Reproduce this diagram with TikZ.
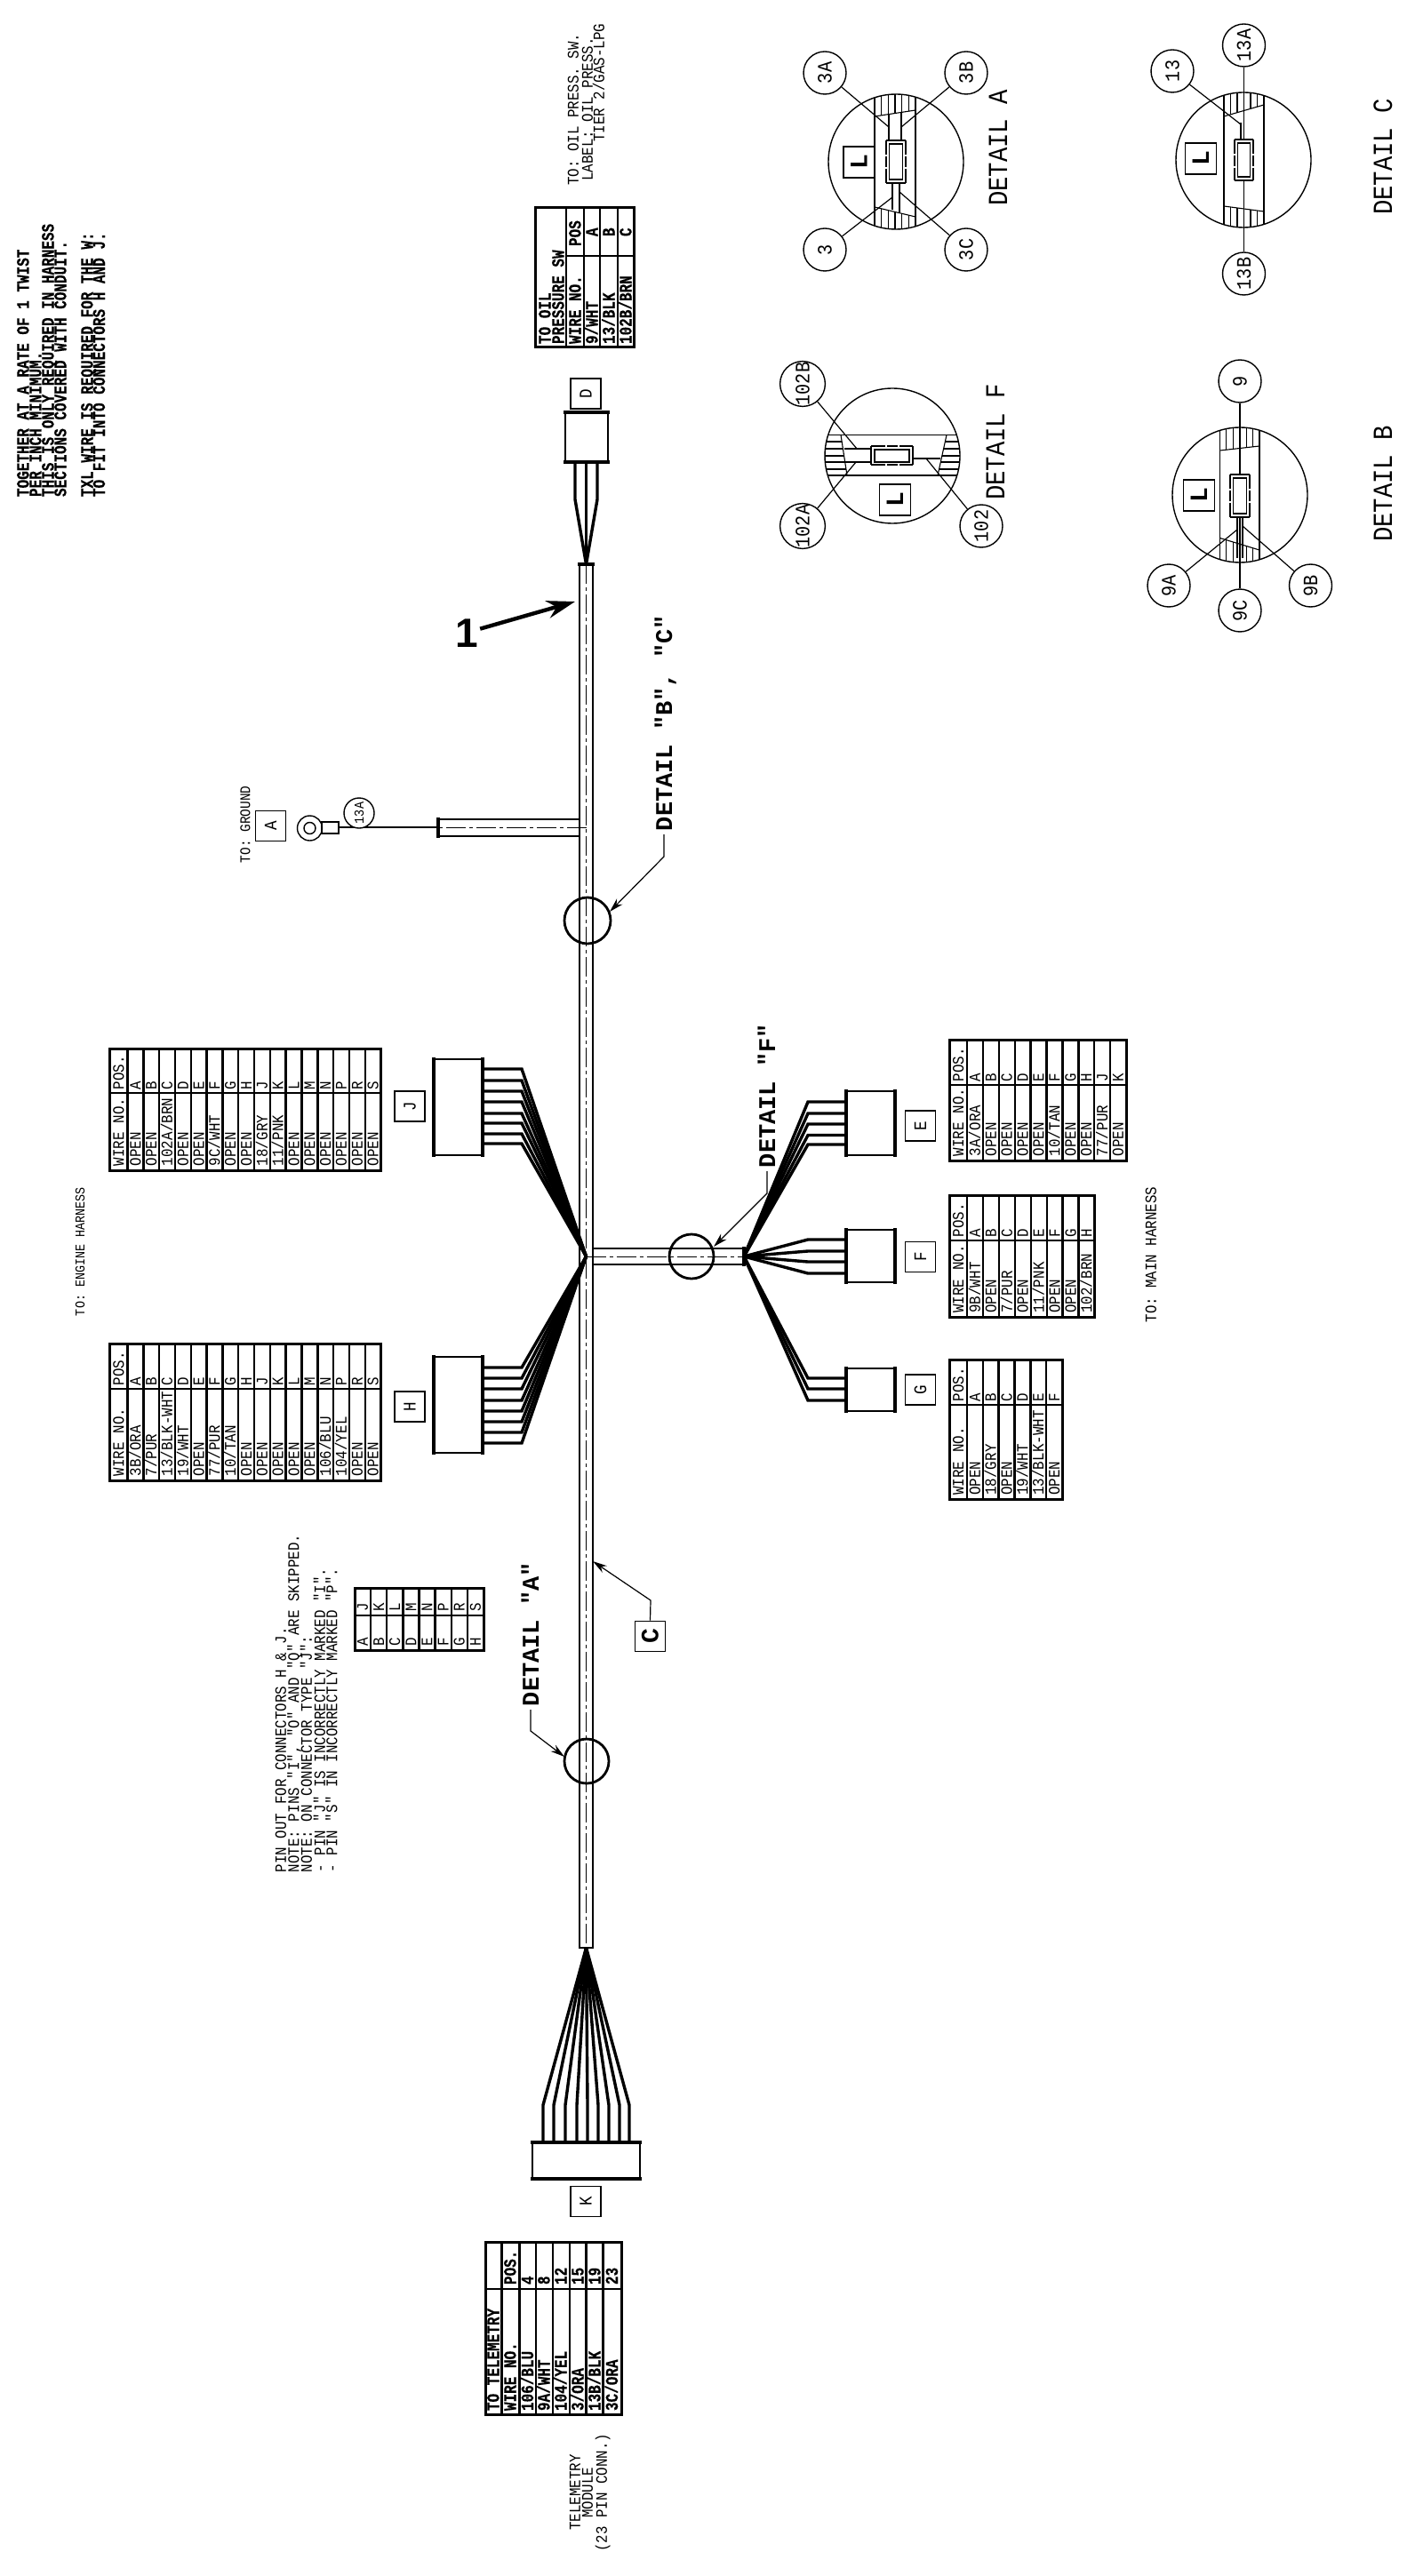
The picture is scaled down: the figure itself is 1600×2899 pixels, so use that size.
\documentclass[tikz,border=0pt]{standalone}
\usepackage{fontspec}
\usetikzlibrary{arrows.meta}
\newfontfamily\cadfont[FakeStretch=0.88]{Liberation Mono}
\newfontfamily\cadbold[FakeStretch=0.8,FakeBold=0.3]{Liberation Mono Bold}
\newfontfamily\cadwide{Liberation Mono Bold}
\newfontfamily\cadsans{Liberation Sans Bold}
\tikzset{
  cad/.style 2 args={rotate=90,anchor=west,inner sep=0pt,outer sep=0pt,text depth=0pt,
     font=\cadfont\fontsize{#1pt}{#1pt}\selectfont,text height=#2pt},
  cadb/.style 2 args={rotate=90,anchor=west,inner sep=0pt,outer sep=0pt,text depth=0pt,
     font=\cadbold\fontsize{#1pt}{#1pt}\selectfont,text height=#2pt},
  cadw/.style 2 args={rotate=90,anchor=west,inner sep=0pt,outer sep=0pt,text depth=0pt,
     font=\cadwide\fontsize{#1pt}{#1pt}\selectfont,text height=#2pt},
  txtN/.style={cad={9}{5.9}},
  txtS/.style={cad={7.6}{5}},
  txtG/.style={cad={8.2}{5.4}},
  txtD/.style={cad={15.5}{10.2}},
  txtB/.style={cadb={10}{6.5}},
  txtW/.style={cadw={13.5}{9}},
  thinl/.style={line width=0.7pt},
  fine/.style={line width=0.55pt},
  sleeve/.style={line width=0.7pt},
  centerl/.style={line width=0.5pt,dash pattern=on 11pt off 2pt on 2pt off 2pt},
  capbar/.style={line width=1.6pt},
  wire/.style={line width=1.7pt,miter limit=10},
  leader/.style={line width=0.6pt},
  leadarrow/.style={line width=0.6pt,-{Stealth[length=8pt,width=4.5pt]}},
  ringbold/.style={circle,draw,line width=1.4pt,inner sep=0pt},
  connbox/.style={rectangle,draw,line width=0.7pt,inner sep=0pt,outer sep=0pt},
  letterbox/.style={rectangle,draw,line width=0.7pt,minimum size=17pt,inner sep=0pt,rotate=90,
     font=\cadfont\fontsize{10pt}{10pt}\selectfont,text height=6.6pt,text depth=0pt},
  lbox/.style={rectangle,draw,line width=0.8pt,minimum size=17.5pt,inner sep=0pt,rotate=90,
     font=\cadwide\fontsize{14pt}{14pt}\selectfont,text height=9.2pt,text depth=0pt},
  callout/.style={circle,draw,line width=0.7pt,minimum size=24pt,inner sep=0pt,rotate=90,
     font=\cadfont\fontsize{11.5pt}{11.5pt}\selectfont,text height=7.6pt,text depth=0pt},
  detcirc/.style={circle,draw,line width=0.7pt,minimum size=76pt,inner sep=0pt,outer sep=0pt},
  tabouter/.style={line width=1.5pt},
  tabinner/.style={line width=1.2pt},
}
% wire table: name, xleft, xright, ytop, ydiv, ybottom, header width, nrows, rows
\newcommand{\wiretable}[9]{%
  \draw[tabouter] (#2,#4) rectangle (#3,#6);
  \draw[tabinner] (#2,#5) -- (#3,#5);
  \node[txtN] (#1-hw) at (#2+#7/2,#6-5) {WIRE NO.};
  \node[txtN] (#1-hp) at (#2+#7/2,#5-4) {POS.};
  \pgfmathsetmacro\rowstep{(#3-#2-#7)/#8}
  \foreach \w/\p [count=\i from 0] in {#9}{
    \pgfmathsetmacro\xa{#2+#7+\i*\rowstep}
    \pgfmathsetmacro\xc{\xa+\rowstep/2}
    \draw[tabinner] (\xa,#4) -- (\xa,#6);
    \node[txtN] (#1-w\i) at (\xc,#6-5) {\w};
    \node[txtN] (#1-p\i) at (\xc,#5-4) {\p};
  }
}
% horizontal fan
\newcommand{\fanh}[4]{\foreach \y in {#4}{\draw[wire] (#1 |- 0,\y) -- (#2,\y) -- (#3);}}
% bars at the two wire/mating faces
\newcommand{\barsh}[1]{%
  \draw[capbar] ([yshift=1pt]#1.north west) -- ([yshift=-1pt]#1.south west);
  \draw[capbar] ([yshift=1pt]#1.north east) -- ([yshift=-1pt]#1.south east);}
\newcommand{\barsv}[1]{%
  \draw[capbar] ([xshift=-1pt]#1.north west) -- ([xshift=1pt]#1.north east);
  \draw[capbar] ([xshift=-1pt]#1.south west) -- ([xshift=1pt]#1.south east);}
% vertical-conduit detail: name,cx,cy,x1,x2,y1top,y2top,y1bot,y2bot
\newcommand{\vdetail}[9]{%
  \node[detcirc] (#1) at (#2,#3) {};
  \begin{scope}
    \clip (#2,#3) circle[radius=76];
    \draw[fine] (#4,#3-80) -- (#4,#3+80);
    \draw[fine] (#5,#3-80) -- (#5,#3+80);
    \draw[fine] (#4,#6) -- (#5,#7);
    \draw[fine] (#4,#8) -- (#5,#9);
    \begin{scope}
      \clip (#4,#3-80) -- (#5,#3-80) -- (#5,#7) -- (#4,#6) -- cycle;
      \foreach \k in {1,...,5}{\pgfmathsetmacro\hx{#4+\k*(#5-#4)/6}\draw[fine] (\hx,#3-80) -- (\hx,#3+80);}
    \end{scope}
    \begin{scope}
      \clip (#4,#3+80) -- (#5,#3+80) -- (#5,#9) -- (#4,#8) -- cycle;
      \foreach \k in {1,...,5}{\pgfmathsetmacro\hx{#4+\k*(#5-#4)/6}\draw[fine] (\hx,#3-80) -- (\hx,#3+80);}
    \end{scope}
  \end{scope}
}
% small connector inside a vertical detail: x1,y1,x2,y2
\newcommand{\vplug}[4]{%
  \draw[thinl] (#1,#2) -- (#3,#2);
  \draw[thinl] (#1,#4) -- (#3,#4);
  \draw[thinl,dash pattern=on 8pt off 1pt on 6pt off 1pt on 8pt off 1pt] (#1,#2) -- (#1,#4);
  \draw[thinl,dash pattern=on 8pt off 1pt on 6pt off 1pt on 8pt off 1pt] (#3,#2) -- (#3,#4);
  \draw[thinl] (#1+3.5,#2+4) rectangle (#3-3.5,#4-4);
}
% callout leader to a free end
\newcommand{\calleader}[2]{\coordinate (#1-end) at (#2); \draw[leader] (#1) -- (#1-end);}
\begin{document}
\begin{tikzpicture}[x=0.5pt,y=-0.5pt]
\useasboundingbox (0,0) rectangle (1600,2899);
\fill[white] (0,0) rectangle (1600,2899);

% ---- notes, top left
\node[txtB] (n1) at (26,559) {TOGETHER AT A RATE OF 1 TWIST};
\node[txtB] (n2) at (40,559) {PER INCH MINIMUM.};
\node[txtB] (n3) at (54,559) {THIS IS ONLY REQUIRED IN HARNESS};
\node[txtB] (n4) at (68,559) {SECTIONS COVERED WITH CONDUIT.};
\node[txtB] (n5) at (98,559) {TXL WIRE IS REQUIRED FOR THE W:};
\node[txtB] (n6) at (111.5,559) {TO FIT INTO CONNECTORS H AND J.};

% ---- main harness
\coordinate (tipTop) at (659.5,635);
\coordinate (tipBot) at (659.5,2192);
\coordinate (tipL) at (659.5,1414);
\coordinate (tipR) at (837,1414);
\coordinate (gndEnd) at (493,931);
\draw[sleeve] (652,635) -- (652,2192) -- (667,2192) -- (667,635);
\draw[centerl] (tipTop) -- (tipBot);
\draw[capbar] (650,635) -- (669,635);
% right branch
\draw[sleeve] (667,1405) -- (837,1405) (667,1423) -- (837,1423);
\draw[centerl] (tipL) -- (tipR);
\draw[capbar] (837,1403) -- (837,1425);
% ground branch
\draw[sleeve] (652,922) -- (493,922) (652,941) -- (493,941);
\draw[centerl] (659.5,931) -- (gndEnd);
\draw[capbar] (493,920) -- (493,943);

% ---- D connector and table
\node[connbox,minimum width=24pt,minimum height=28pt] (connD) at (660,492) {};
\barsv{connD}
\foreach \x in {647,659.5,672}{\draw[wire] (\x,0 |- connD.south) -- (\x,562) -- (tipTop);}
\node[letterbox] (boxD) at (659,443) {D};
\draw[tabouter] (602,234) rectangle (713,391);
\foreach \x in {637,657,675,695}{\draw[tabinner] (\x,234) -- (\x,391);}
\draw[tabinner] (637,288) -- (713,288);
\node[txtB] (oil1) at (613,387) {TO OIL};
\node[txtB] (oil2) at (628,387) {PRESSURE SW};
\node[txtB] (oil3) at (647,387) {WIRE NO.};
\node[txtB] (oil4) at (666,387) {9/WHT};
\node[txtB] (oil5) at (685,387) {13/BLK};
\node[txtB] (oil6) at (704,387) {102B/BRN};
\node[txtB] (oil7) at (647,277) {POS};
\node[txtB] (oil8) at (666,266) {A};
\node[txtB] (oil9) at (685,266) {B};
\node[txtB] (oil10) at (704,266) {C};
\node[txtN] (top1) at (645,209) {TO: OIL PRESS. SW.};
\node[txtN] (top2) at (661,204) {LABEL: OIL PRESS.};
\node[txtN] (top3) at (674,160) {TIER 2/GAS-LPG};

% ---- item 1
\node[inner sep=1pt,font=\cadsans\fontsize{23pt}{23pt}\selectfont,text height=16.5pt,text depth=0pt] (itemOne) at (525,712) {1};
\coordinate (itemOneEnd) at (647,677);
\draw[line width=2.2pt,-{Stealth[length=16pt,width=10pt]}] (itemOne) -- (itemOneEnd);

% ---- DETAIL B,C callout
\node[ringbold,minimum size=26pt] (ringBC) at (661,1036) {};
\node[txtW] (detBC) at (747,935) {DETAIL "B", "C"};
\coordinate (bcBend) at (747,964);
\coordinate (bcTip) at (686,1026);
\draw[leadarrow] ([yshift=-2pt]detBC.west) -- (bcBend) -- (bcTip);

% ---- ground
\draw[leader] (gndEnd) -- (381,931);
\node[connbox,minimum width=9.5pt,minimum height=6.5pt] (crimp) at (371.5,931.5) {};
\node[circle,draw,line width=0.7pt,minimum size=14pt,inner sep=0pt] (ringO) at (348.5,932) {};
\node[circle,draw,line width=0.7pt,minimum size=6.5pt,inner sep=0pt] (ringI) at (348.5,932) {};
\node[callout,minimum size=17pt,font=\cadfont\fontsize{7.6pt}{7.6pt}\selectfont,text height=5pt,fill=white] (c13g) at (404,915) {13A};
\node[letterbox] (boxA) at (304.5,929.5) {A};
\node[txtG] (gndT) at (276,971) {TO:  GROUND};

% ---- J and H connectors
\node[connbox,minimum width=27.5pt,minimum height=54pt] (connJ) at (515.5,1246) {};
\node[connbox,minimum width=27.5pt,minimum height=54pt] (connH) at (515.5,1581) {};
\barsh{connJ}\barsh{connH}
\fanh{connJ.east}{587}{tipL}{1203,1216,1228,1240,1253,1264,1276,1287}
\fanh{connH.east}{587}{tipL}{1539,1551,1563,1576,1588,1600,1612,1624}
\node[letterbox] (boxJ) at (461,1245) {J};
\node[letterbox] (boxH) at (461,1583) {H};
\wiretable{tJ}{123.5}{428.6}{1180}{1230}{1317}{20}{16}{OPEN/A,OPEN/B,{102A/BRN}/C,OPEN/D,OPEN/E,{9C/WHT}/F,OPEN/G,OPEN/H,{18/GRY}/J,{11/PNK}/K,OPEN/L,OPEN/M,OPEN/N,OPEN/P,OPEN/R,OPEN/S}
\wiretable{tH}{123.5}{428.6}{1512}{1563}{1666}{20}{16}{{3B/ORA}/A,{7/PUR}/B,{13/BLK-WHT}/C,{19/WHT}/D,OPEN/E,{77/PUR}/F,{10/TAN}/G,OPEN/H,OPEN/J,OPEN/K,OPEN/L,OPEN/M,{106/BLU}/N,{104/YEL}/P,OPEN/R,OPEN/S}
\node[txtS] (toEng) at (90,1481) {TO: ENGINE HARNESS};

% ---- E F G connectors
\node[connbox,minimum width=27.5pt,minimum height=36pt] (connE) at (979.5,1264) {};
\node[connbox,minimum width=27.5pt,minimum height=29.5pt] (connF) at (979.5,1413.5) {};
\node[connbox,minimum width=27.5pt,minimum height=24pt] (connG) at (979.5,1564) {};
\barsh{connE}\barsh{connF}\barsh{connG}
\fanh{connE.west}{909}{tipR}{1240,1253,1265,1277.5,1288}
\fanh{connF.west}{909}{tipR}{1395,1408,1420,1433}
\fanh{connG.west}{909}{tipR}{1551,1563,1576}
\node[letterbox] (boxE) at (1035.5,1267) {E};
\node[letterbox] (boxF) at (1035.5,1414.5) {F};
\node[letterbox] (boxG) at (1035.5,1564) {G};
\wiretable{tE}{1068.5}{1267}{1170}{1221}{1306}{19.5}{10}{{3A/ORA}/A,OPEN/B,OPEN/C,OPEN/D,OPEN/E,{10/TAN}/F,OPEN/G,OPEN/H,{77/PUR}/J,OPEN/K}
\wiretable{tF}{1068.5}{1231.5}{1345}{1396}{1482.5}{19.5}{8}{{9B/WHT}/A,OPEN/B,{7/PUR}/C,OPEN/D,{11/PNK}/E,OPEN/F,OPEN/G,{102/BRN}/H}
\wiretable{tG}{1068.5}{1195}{1530}{1581}{1687.5}{19.5}{6}{OPEN/A,{18/GRY}/B,OPEN/C,{19/WHT}/D,{13/BLK-WHT}/E,OPEN/F}
\node[txtN] (toMain) at (1295,1488) {TO: MAIN HARNESS};

% ---- DETAIL F callout
\node[ringbold,minimum size=25pt] (ringF) at (778,1414) {};
\node[txtW] (detF) at (863,1314) {DETAIL "F"};
\coordinate (fBend) at (863,1343);
\coordinate (fTip) at (803,1403);
\draw[leadarrow] ([yshift=-2pt]detF.west) -- (fBend) -- (fTip);

% ---- pin-out note and table
\node[txtN] (pin1) at (316,2107) {PIN OUT FOR CONNECTORS H \& J.};
\node[txtN] (pin2) at (330.5,2107) {NOTE: PINS "I", "O" AND "Q" ARE SKIPPED.};
\node[txtN] (pin3) at (345,2107) {NOTE: ON CONNECTOR TYPE "J":};
\node[txtN] (pin4) at (360,2107) {- PIN "J" IS INCORRECTLY MARKED "I".};
\node[txtN] (pin5) at (373.5,2107) {- PIN "S" IN INCORRECTLY MARKED "P".};
\draw[tabouter] (399,1787) rectangle (544,1857);
\draw[tabinner] (399,1818) -- (544,1818);
\foreach \lo/\hi [count=\i from 0] in {A/J,B/K,C/L,D/M,E/N,F/P,G/R,H/S}{
  \pgfmathsetmacro\xa{399+\i*18.125}
  \pgfmathsetmacro\xc{\xa+9}
  \ifnum\i>0 \draw[tabinner] (\xa,1787) -- (\xa,1857);\fi
  \node[txtN] (pinL\i) at (\xc,1852) {\lo};
  \node[txtN] (pinH\i) at (\xc,1813) {\hi};
}

% ---- DETAIL A callout, C label
\node[ringbold,minimum size=25pt] (ringA) at (660,1982) {};
\node[txtW] (detA) at (597,1920) {DETAIL "A"};
\coordinate (aBend) at (597,1948);
\coordinate (aTip) at (635,1977);
\draw[leadarrow] ([yshift=-2pt]detA.west) -- (aBend) -- (aTip);
\node[letterbox,font=\cadwide\fontsize{14pt}{14pt}\selectfont,text height=9.2pt,line width=0.8pt] (boxC) at (731.5,1841.5) {C};
\coordinate (cBend) at (732,1801);
\coordinate (cTip) at (667,1757);
\draw[leadarrow] (boxC.east) -- (cBend) -- (cTip);

% ---- K connector and table
\node[connbox,minimum width=60.5pt,minimum height=20.5pt] (connK) at (659.5,2431.5) {};
\barsv{connK}
\foreach \x in {611,623,636,649,661,673,685,697,708}{\draw[wire] (\x,0 |- connK.north) -- (\x,2369) -- (tipBot);}
\node[letterbox] (boxK) at (659,2477.5) {K};
\draw[tabouter] (546,2523) rectangle (699,2717);
\draw[tabinner] (546,2576) -- (699,2576);
\foreach \x in {564.3,584.3,602.7,621.7,640.7,659.3,678.3}{\draw[tabinner] (\x,2523) -- (\x,2717);}
\node[txtB] (tel0) at (555,2713) {TO TELEMETRY};
\foreach \w/\p/\x [count=\i] in {WIRE NO./POS./574,{106/BLU}/4/593.5,{9A/WHT}/8/612,{104/YEL}/12/631,{3/ORA}/15/650,{13B/BLK}/19/669,{3C/ORA}/23/688.5}{
  \node[txtB] (telw\i) at (\x,2713) {\w};
  \node[txtB] (telp\i) at (\x,2571) {\p};
}
\node[txtN,anchor=center] (tm1) at (647,2805) {TELEMETRY};
\node[txtN,anchor=center] (tm2) at (661,2805) {MODULE};
\node[txtN,anchor=center] (tm3) at (677,2805) {(23 PIN CONN.)};

% ================= details
% DETAIL A
\vdetail{dA}{1008}{182}{984}{1030}{131}{124}{233}{244}
\draw[thinl] (1000,129) -- (1000,158) (1014,127) -- (1014,158);
\draw[thinl] (1004,206) -- (1004,236) (1012,206) -- (1012,239);
\vplug{997}{158}{1019}{206}
\node[callout] (c3A) at (928,82) {3A};
\node[callout] (c3B) at (1087,82) {3B};
\node[callout] (c3) at (928,281) {3};
\node[callout] (c3C) at (1087,281) {3C};
\calleader{c3A}{1000,143}
\calleader{c3B}{1014,143}
\calleader{c3}{1004,222}
\calleader{c3C}{1012,216}
\node[lbox] (LA) at (966.5,182.5) {L};
\node[txtD] (tdA) at (1123,232) {DETAIL A};

% DETAIL C
\vdetail{dC}{1399}{180}{1377}{1422}{131}{118}{232}{238}
\vplug{1389}{157}{1410}{203}
\draw[thinl] (1396,138) -- (1396,157);
\node[callout] (c13A) at (1399.5,51) {13A};
\node[callout] (c13B) at (1399.5,308) {13B};
\node[callout] (c13) at (1319,80) {13};
\coordinate (c13Atop) at (1399.5,157);
\coordinate (c13Bbot) at (1399.5,203);
\draw[leader] (c13A) -- (c13Atop);
\draw[leader] (c13B) -- (c13Bbot);
\calleader{c13}{1396,140}
\node[lbox] (LC) at (1351,178.5) {L};
\node[txtD] (tdC) at (1556,242) {DETAIL C};

% DETAIL B
\vdetail{dB}{1395}{557}{1372.5}{1417}{507}{502}{605.5}{619}
\vplug{1384}{534}{1406}{582}
\draw[thinl] (1392,582) -- (1392,628) (1398,582) -- (1398,628);
\node[callout] (c9) at (1395,429) {9};
\node[callout] (c9C) at (1395,687) {9C};
\node[callout] (c9A) at (1315,659) {9A};
\node[callout] (c9B) at (1474.5,659) {9B};
\coordinate (c9top) at (1395,534);
\coordinate (c9bot) at (1395,582);
\draw[leader] (c9) -- (c9top);
\draw[leader] (c9C) -- (c9bot);
\calleader{c9A}{1392,596}
\calleader{c9B}{1398,592}
\node[lbox] (LB) at (1349,557.5) {L};
\node[txtD] (tdB) at (1556,610) {DETAIL B};

% DETAIL F
\node[detcirc] (dF) at (1004,513) {};
\begin{scope}
  \clip (1004,513) circle[radius=76];
  \draw[fine] (920,489.5) -- (1090,489.5) (920,535) -- (1090,535);
  \draw[fine] (946,489.5) -- (953,535) (1065,489.5) -- (1055,535);
  \begin{scope}
    \clip (920,489.5) -- (946,489.5) -- (953,535) -- (920,535) -- cycle;
    \foreach \y in {497,505,513,520,528}{\draw[fine] (920,\y) -- (1090,\y);}
  \end{scope}
  \begin{scope}
    \clip (1090,489.5) -- (1065,489.5) -- (1055,535) -- (1090,535) -- cycle;
    \foreach \y in {497,505,513,520,528}{\draw[fine] (920,\y) -- (1090,\y);}
  \end{scope}
\end{scope}
\draw[thinl] (950,505) -- (980,505) (950,520) -- (980,520) (1027,516) -- (1058,516);
\draw[thinl] (980,502) -- (980,523) (1027,502) -- (1027,523);
\draw[thinl,dash pattern=on 8pt off 1pt on 6pt off 1pt on 8pt off 1pt] (980,502) -- (1027,502);
\draw[thinl,dash pattern=on 8pt off 1pt on 6pt off 1pt on 8pt off 1pt] (980,523) -- (1027,523);
\draw[thinl] (984,506) rectangle (1023,520);
\node[callout] (c102B) at (903,432) {102B};
\node[callout] (c102A) at (903,592) {102A};
\node[callout] (c102) at (1104,592) {102};
\calleader{c102B}{964,505}
\calleader{c102A}{963,520}
\calleader{c102}{1042,516}
\node[lbox] (LF) at (1007,562.5) {L};
\node[txtD] (tdF) at (1120,563) {DETAIL F};
\end{tikzpicture}
\end{document}
